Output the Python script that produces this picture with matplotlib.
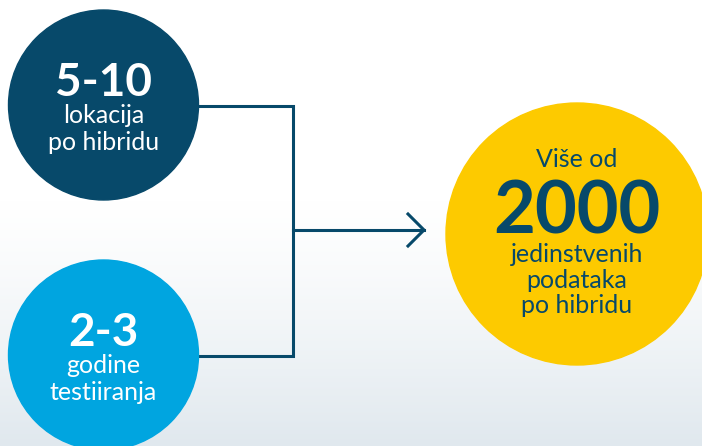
import numpy as np
import matplotlib
matplotlib.use("Agg")
from matplotlib import pyplot as plt
from matplotlib.patches import Circle

plt.rcParams['font.family'] = ['Lato', 'DejaVu Sans']

# Infographic content
big_numbers = ["5-10", "2-3"]
small_labels = [["lokacija", "po hibridu"], ["godine", "testiiranja"]]
circle_colors = ["#07496a", "#00a5e0"]

result_top = "Više od"
result_number = "2000"
result_bottom = ["jedinstvenih", "podataka", "po hibridu"]
result_color = "#fdca00"
navy = "#07496a"

W, H = 702, 446
fig = plt.figure(figsize=(W / 100, H / 100), dpi=100)
ax = fig.add_axes([0, 0, 1, 1])
ax.set_xlim(0, W)
ax.set_ylim(H, 0)
ax.axis("off")

# background: white at top fading to a pale blue-grey at the bottom
grad = np.ones((H, 1, 3))
t = np.clip((np.arange(H) - 200) / (H - 200), 0, 1) ** 1.3
bottom = np.array([0.878, 0.910, 0.933])
for k in range(3):
    grad[:, 0, k] = 1 - t * (1 - bottom[k])
ax.imshow(grad, extent=[0, W, H, 0], aspect="auto", zorder=0)

# left circles
centers = [(103.5, 105), (103.5, 355)]
r = 95
for (cx, cy), col, num, lab in zip(centers, circle_colors, big_numbers, small_labels):
    ax.add_patch(Circle((cx, cy), r, color=col, zorder=2))
    ax.text(cx, cy - 9, num, color="white", fontsize=33, fontweight="bold",
            ha="center", va="baseline", zorder=3)
    for i, s in enumerate(lab):
        ax.text(cx, cy + 18 + i * 27.5, s, color="white", fontsize=18,
                ha="center", va="baseline", zorder=3)

# connector lines
lw = 2.2
ax.plot([198, 293, 293, 198], [106, 106, 356, 356], color=navy, lw=lw,
        solid_joinstyle="miter", zorder=1)
ax.plot([293, 424], [230, 230], color=navy, lw=lw, zorder=1)
ax.plot([408, 424, 408], [214, 230, 246], color=navy, lw=lw,
        solid_joinstyle="miter", zorder=1)

# result circle
rx, ry, rr = 577, 234, 131
ax.add_patch(Circle((rx, ry), rr, color=result_color, zorder=2))
ax.text(rx, 167, result_top, color=navy, fontsize=18, ha="center",
        va="baseline", zorder=3)
ax.text(rx, 233, result_number, color=navy, fontsize=52, fontweight="bold",
        ha="center", va="baseline", zorder=3)
for i, s in enumerate(result_bottom):
    ax.text(rx, 262 + i * 25.5, s, color=navy, fontsize=18, ha="center",
            va="baseline", zorder=3)

fig.savefig("out.png", dpi=100)
